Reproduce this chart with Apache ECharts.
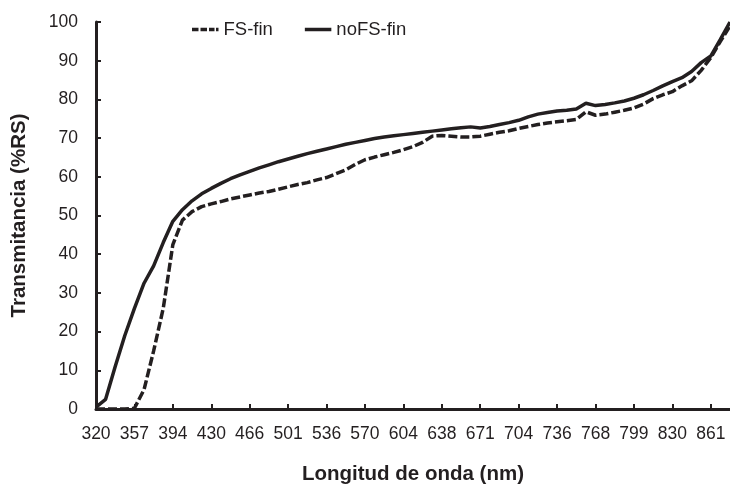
<!DOCTYPE html>
<html>
<head>
<meta charset="utf-8">
<script src="https://cdn.jsdelivr.net/npm/echarts@6/dist/echarts.min.js"></script>
<style>
html,body{margin:0;padding:0;background:#fff;}
#c{width:730px;height:490px;}
</style>
</head>
<body>
<div id="c"></div>
<script>
// Wavelength samples (nm); every 4th one is a printed tick label
const wavelengths = [320,329,339,348,357,366,376,385,394,403,412,421,430,439,448,457,466,475,484,492,
  501,510,519,527,536,545,553,562,570,579,587,596,604,613,621,630,638,646,655,663,
  671,679,688,696,704,712,720,728,736,744,752,760,768,776,784,791,799,807,815,822,
  830,838,846,853,861,869,876];

// FS-fin (dashed)
const fsFin = [0,0,0,0,0.2,5,15,26,42.5,48.8,51,52.3,53,53.6,54.3,54.8,55.3,55.8,56.2,56.8,
  57.4,58,58.5,59.2,59.8,60.8,61.8,63.2,64.4,65.1,65.7,66.3,67,67.8,68.9,70.5,70.7,70.5,70.3,70.3,
  70.5,71,71.5,71.9,72.5,73,73.5,73.9,74.2,74.5,74.8,76.8,75.9,76.2,76.7,77.2,77.8,78.8,80.2,81.2,
  82,83.5,84.8,87.5,90.8,95,99];

// noFS-fin (solid)
const noFsFin = [0.5,2.5,11,19,26,32.5,37,43,48.5,51.5,53.8,55.6,57,58.3,59.5,60.5,61.4,62.3,63.1,63.9,
  64.6,65.3,66,66.6,67.2,67.8,68.4,68.9,69.4,69.9,70.3,70.6,70.9,71.2,71.5,71.8,72.1,72.4,72.7,72.9,
  72.6,73,73.5,74,74.6,75.5,76.2,76.6,77,77.2,77.5,79,78.4,78.7,79.1,79.6,80.3,81.2,82.3,83.5,
  84.6,85.6,87.2,89.5,91.2,95.5,100];

const seriesNames = ['FS-fin','noFS-fin'];
const yTicks = {min:0, max:100, step:10};

const FONT = '"Liberation Sans", Arial, sans-serif';
const INK = '#231f20';

const chart = echarts.init(document.getElementById('c'), null, {renderer:'canvas'});
chart.setOption({
  animation:false,
  backgroundColor:'#fff',
  textStyle:{fontFamily:FONT,color:INK},
  grid:{left:96,right:0,top:22,bottom:77,containLabel:false},
  legend:{
    data:[
      {name:seriesNames[0], icon:'path://M0,0h6.5v3.5h-6.5z M8.5,0h6.5v3.5h-6.5z M17,0h5.5v3.5h-5.5z M24,0h2.5v3.5h-2.5z'},
      {name:seriesNames[1], icon:'path://M0,0h26.5v3.5h-26.5z'}
    ],
    left:192, top:20, padding:0,
    itemWidth:26.5, itemHeight:3.5, itemGap:32,
    itemStyle:{color:INK},
    textStyle:{fontFamily:FONT,fontSize:18.5,color:INK}
  },
  xAxis:{
    type:'category',
    data:wavelengths,
    boundaryGap:false,
    name:'Longitud de onda (nm)',
    nameLocation:'middle',
    nameGap:55,
    nameTextStyle:{fontFamily:FONT,fontSize:20.5,fontWeight:'bold',color:INK},
    axisLine:{lineStyle:{color:INK,width:3}},
    axisTick:{show:true,inside:true,interval:3,length:5,lineStyle:{color:INK,width:2}},
    axisLabel:{interval:3,margin:16,fontFamily:FONT,fontSize:17.5,color:INK},
    splitLine:{show:false}
  },
  yAxis:{
    type:'value',
    min:yTicks.min,max:yTicks.max,interval:yTicks.step,
    name:'Transmitancia (%RS)',
    nameLocation:'middle',
    nameGap:66,
    nameTextStyle:{fontFamily:FONT,fontSize:20.5,fontWeight:'bold',color:INK},
    axisLine:{show:true,lineStyle:{color:INK,width:3}},
    axisTick:{show:true,inside:true,length:5,lineStyle:{color:INK,width:2}},
    axisLabel:{margin:18,fontFamily:FONT,fontSize:17.5,color:INK},
    splitLine:{show:false}
  },
  series:[
    {
      name:seriesNames[0],type:'line',data:fsFin,
      symbol:'none',smooth:false,
      lineStyle:{color:INK,width:3.5,type:[9,3],cap:'butt'},
      itemStyle:{color:INK}
    },
    {
      name:seriesNames[1],type:'line',data:noFsFin,
      symbol:'none',smooth:false,
      lineStyle:{color:INK,width:3.5,type:'solid'},
      itemStyle:{color:INK}
    }
  ]
});
</script>
</body>
</html>
